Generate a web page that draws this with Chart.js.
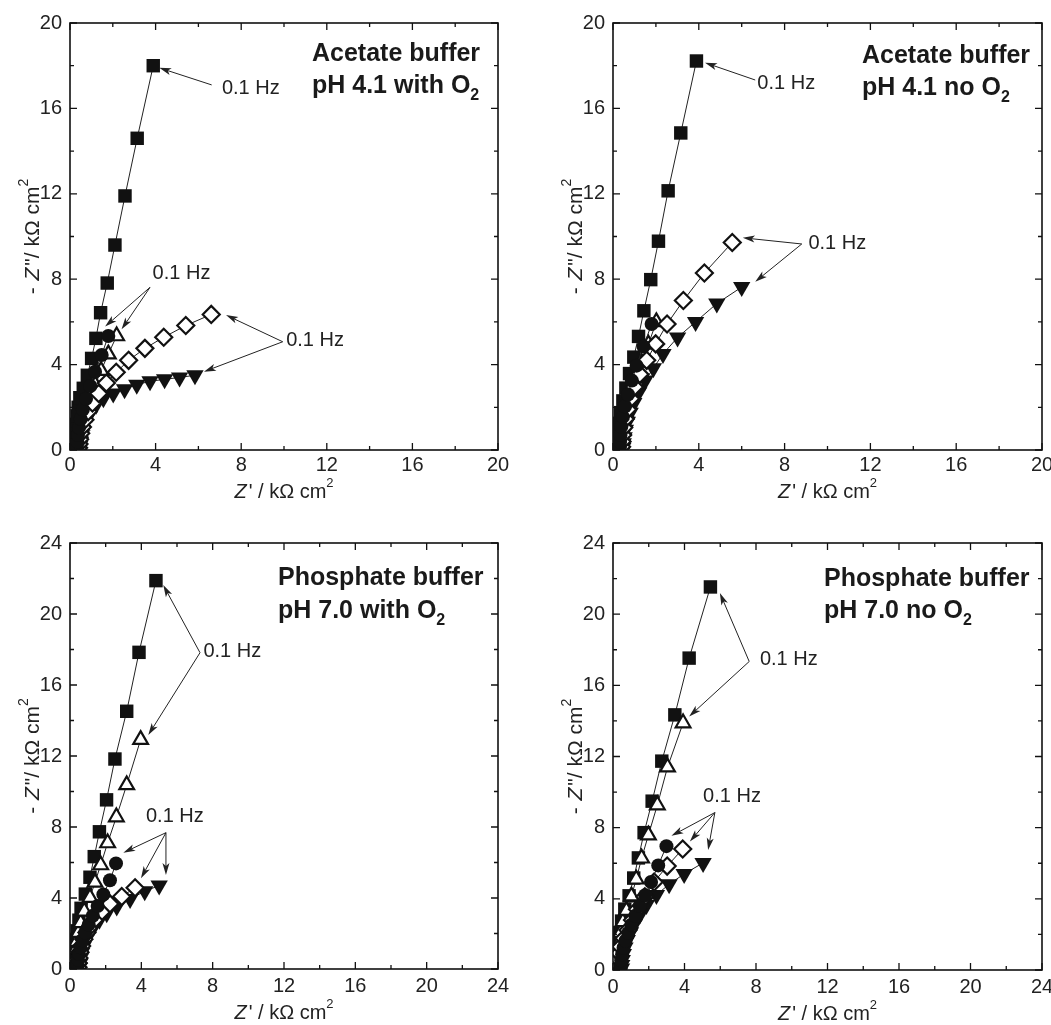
<!DOCTYPE html>
<html>
<head>
<meta charset="utf-8">
<script src="https://cdn.jsdelivr.net/npm/chart.js@4.4.0/dist/chart.umd.min.js"></script>
<style>
html, body { margin: 0; padding: 0; background: #fff; }
#wrap { position: relative; width: 1051px; height: 1025px; overflow: hidden; background: #fff; }
.panel { position: absolute; }
</style>
</head>
<body>
<div id="wrap">
  <div class="panel" style="left:0;top:0"><canvas id="c1" width="530" height="520"></canvas></div>
  <div class="panel" style="left:543px;top:0"><canvas id="c2" width="530" height="520"></canvas></div>
  <div class="panel" style="left:0;top:520px"><canvas id="c3" width="530" height="505"></canvas></div>
  <div class="panel" style="left:543px;top:520px"><canvas id="c4" width="530" height="505"></canvas></div>
</div>
<script>
// Nyquist data, [Z', -Z''] in kOhm cm2, high frequency first, 0.1 Hz last

// acetate buffer pH 4.1 with O2
const a1Sq = [[0.26,0.1],[0.26,0.3],[0.27,0.55],[0.28,0.85],[0.30,1.2],[0.33,1.6],[0.38,2.0],[0.46,2.45],[0.62,2.89],[0.81,3.5],[1.01,4.29],[1.21,5.23],[1.43,6.43],[1.74,7.82],[2.10,9.6],[2.57,11.9],[3.14,14.6],[3.89,18.0]];
const a1Ci = [[0.31,0.07],[0.32,0.2],[0.34,0.4],[0.37,0.7],[0.42,1.05],[0.5,1.45],[0.6,1.9],[0.75,2.4],[0.95,3.0],[1.17,3.67],[1.48,4.45],[1.79,5.34]];
const a1Up = [[0.37,0.08],[0.38,0.25],[0.41,0.5],[0.46,0.8],[0.53,1.15],[0.63,1.55],[0.77,2.0],[0.95,2.5],[1.18,3.05],[1.45,3.72],[1.79,4.49],[2.18,5.34]];
const a1Di = [[0.40,0.1],[0.42,0.28],[0.45,0.5],[0.5,0.78],[0.58,1.08],[0.7,1.42],[0.85,1.8],[1.05,2.2],[1.34,2.65],[1.70,3.14],[2.16,3.64],[2.74,4.2],[3.50,4.76],[4.38,5.28],[5.41,5.83],[6.6,6.35]];
const a1Dn = [[0.45,0.07],[0.46,0.2],[0.48,0.4],[0.52,0.65],[0.58,0.92],[0.67,1.2],[0.8,1.5],[0.98,1.8],[1.22,2.12],[1.56,2.42],[2.02,2.65],[2.55,2.85],[3.12,3.06],[3.74,3.22],[4.42,3.31],[5.12,3.4],[5.84,3.5]];

// acetate buffer pH 4.1 no O2
const a2Sq = [[0.25,0.08],[0.25,0.25],[0.26,0.5],[0.27,0.85],[0.30,1.25],[0.36,1.75],[0.46,2.3],[0.6,2.9],[0.77,3.58],[0.97,4.35],[1.19,5.32],[1.44,6.52],[1.76,7.98],[2.12,9.78],[2.57,12.14],[3.16,14.85],[3.89,18.22]];
const a2Ci = [[0.32,0.12],[0.33,0.38],[0.35,0.7],[0.39,1.1],[0.46,1.55],[0.56,2.05],[0.7,2.6],[0.88,3.25],[1.1,3.95],[1.42,4.85],[1.8,5.9]];
const a2Up = [[0.37,0.08],[0.38,0.28],[0.4,0.55],[0.44,0.9],[0.5,1.3],[0.6,1.75],[0.72,2.25],[0.88,2.8],[1.08,3.4],[1.33,4.1],[1.65,4.95],[2.02,6.0]];
const a2Di = [[0.4,0.15],[0.42,0.4],[0.45,0.7],[0.5,1.05],[0.57,1.45],[0.68,1.9],[0.82,2.4],[1.0,2.95],[1.25,3.55],[1.57,4.2],[1.99,4.97],[2.52,5.9],[3.28,7.0],[4.26,8.29],[5.56,9.72]];
const a2Dn = [[0.46,0.1],[0.48,0.32],[0.52,0.6],[0.58,0.95],[0.67,1.32],[0.8,1.75],[0.97,2.2],[1.2,2.7],[1.5,3.25],[1.88,3.83],[2.33,4.5],[3.01,5.27],[3.85,6.0],[4.84,6.86],[6.0,7.63]];

// phosphate buffer pH 7.0 with O2
const p1Sq = [[0.26,0.1],[0.26,0.35],[0.27,0.7],[0.29,1.1],[0.33,1.6],[0.4,2.15],[0.5,2.75],[0.62,3.42],[0.86,4.22],[1.12,5.17],[1.36,6.33],[1.65,7.73],[2.05,9.53],[2.52,11.83],[3.18,14.52],[3.87,17.84],[4.82,21.88]];
const p1Up = [[0.27,0.1],[0.28,0.35],[0.29,0.7],[0.32,1.1],[0.38,1.55],[0.47,2.05],[0.6,2.6],[0.8,3.25],[1.12,4.02],[1.40,4.88],[1.72,5.86],[2.11,7.1],[2.6,8.56],[3.18,10.37],[3.96,12.92]];
const p1Ci = [[0.41,0.08],[0.42,0.25],[0.45,0.52],[0.5,0.85],[0.58,1.22],[0.7,1.62],[0.85,2.05],[1.05,2.5],[1.28,3.0],[1.55,3.55],[1.87,4.2],[2.24,5.0],[2.58,5.95]];
const p1Di = [[0.45,0.1],[0.46,0.33],[0.5,0.62],[0.56,0.95],[0.65,1.3],[0.78,1.68],[0.95,2.05],[1.17,2.45],[1.45,2.85],[1.8,3.25],[2.24,3.67],[2.9,4.08],[3.65,4.58]];
const p1Dn = [[0.53,0.1],[0.55,0.3],[0.59,0.6],[0.66,0.92],[0.76,1.28],[0.9,1.65],[1.08,2.02],[1.33,2.4],[1.65,2.78],[2.06,3.14],[2.62,3.52],[3.37,3.95],[4.19,4.38],[5.0,4.7]];

// phosphate buffer pH 7.0 no O2
const p2Sq = [[0.26,0.08],[0.26,0.3],[0.27,0.6],[0.28,1.0],[0.32,1.5],[0.38,2.1],[0.48,2.75],[0.66,3.42],[0.9,4.17],[1.16,5.17],[1.42,6.3],[1.74,7.72],[2.19,9.49],[2.73,11.74],[3.46,14.34],[4.26,17.53],[5.45,21.53]];
const p2Up = [[0.27,0.08],[0.27,0.28],[0.28,0.6],[0.3,1.05],[0.34,1.55],[0.42,2.1],[0.55,2.7],[0.75,3.34],[1.03,4.15],[1.3,5.1],[1.6,6.28],[1.98,7.58],[2.48,9.27],[3.05,11.4],[3.92,13.88]];
const p2Ci = [[0.42,0.08],[0.43,0.28],[0.46,0.55],[0.51,0.88],[0.59,1.25],[0.7,1.65],[0.85,2.08],[1.03,2.55],[1.25,3.05],[1.5,3.6],[1.8,4.2],[2.13,4.95],[2.53,5.88],[2.99,6.96]];
const p2Di = [[0.26,0.08],[0.27,0.3],[0.3,0.6],[0.35,0.95],[0.43,1.31],[0.62,1.78],[0.84,2.25],[1.09,2.81],[1.37,3.41],[1.78,4.12],[2.3,4.95],[3.03,5.84],[3.9,6.8]];
const p2Dn = [[0.48,0.08],[0.49,0.28],[0.52,0.56],[0.58,0.9],[0.67,1.27],[0.8,1.68],[0.98,2.12],[1.2,2.6],[1.5,3.1],[1.87,3.66],[2.43,4.22],[3.14,4.82],[3.98,5.4],[5.04,6.02]];

const FONT = "'Liberation Sans', Arial, Helvetica, sans-serif";
const INK = '#1a1a1a';

const mk = {
  sq: {pointStyle: 'rect', pointRadius: 9.5, pointBackgroundColor: '#111', pointBorderColor: '#111', pointBorderWidth: 0},
  ci: {pointStyle: 'circle', pointRadius: 7, pointBackgroundColor: '#111', pointBorderColor: '#111', pointBorderWidth: 0},
  up: {pointStyle: 'triangle', pointRadius: 8.5, pointBackgroundColor: '#fff', pointBorderColor: '#111', pointBorderWidth: 2.2},
  di: {pointStyle: 'rectRot', pointRadius: 8.5, pointBackgroundColor: '#fff', pointBorderColor: '#111', pointBorderWidth: 2.2},
  dn: {pointStyle: 'triangle', pointRotation: 180, pointRadius: 10, pointBackgroundColor: '#111', pointBorderColor: '#111', pointBorderWidth: 0}
};

function series(pts, st) {
  return Object.assign({
    data: pts.map(p => ({x: p[0], y: p[1]})),
    showLine: true,
    borderColor: '#222',
    borderWidth: 1,
    clip: 0
  }, st);
}

// draw a run of text pieces with different fonts on one baseline
function drawRuns(ctx, runs, x, y, align) {
  let w = 0;
  runs.forEach(r => { ctx.font = r.f; w += ctx.measureText(r.t).width + (r.gap || 0); });
  let cx = align === 'center' ? x - w / 2 : x;
  runs.forEach(r => {
    ctx.font = r.f;
    ctx.fillText(r.t, cx, y + (r.dy || 0));
    cx += ctx.measureText(r.t).width + (r.gap || 0);
  });
}

function drawArrow(ctx, x0, y0, x1, y1) {
  const a = Math.atan2(y1 - y0, x1 - x0);
  const L = 12, W = 3.5;
  const c = Math.cos(a), s = Math.sin(a);
  ctx.beginPath();
  ctx.moveTo(x0, y0);
  ctx.lineTo(x1 - L * 0.7 * c, y1 - L * 0.7 * s);
  ctx.stroke();
  ctx.beginPath();
  ctx.moveTo(x1, y1);
  ctx.lineTo(x1 - L * c + W * s, y1 - L * s - W * c);
  ctx.lineTo(x1 - L * 0.75 * c, y1 - L * 0.75 * s);
  ctx.lineTo(x1 - L * c - W * s, y1 - L * s + W * c);
  ctx.closePath();
  ctx.fill();
}

const framePlugin = {
  id: 'frame',
  afterDatasetsDraw(chart, args, opts) {
    const {ctx, chartArea: a, scales: {x, y}} = chart;
    ctx.save();
    ctx.strokeStyle = '#111';
    ctx.lineWidth = 1.6;
    ctx.strokeRect(a.left, a.top, a.right - a.left, a.bottom - a.top);
    ctx.lineWidth = 1.3;
    ctx.beginPath();
    for (let v = 0; v <= x.max; v += 2) {
      const len = v % 4 === 0 ? 7 : 4;
      const px = x.getPixelForValue(v), py = y.getPixelForValue(v);
      ctx.moveTo(px, a.bottom); ctx.lineTo(px, a.bottom - len);
      ctx.moveTo(px, a.top); ctx.lineTo(px, a.top + len);
      ctx.moveTo(a.left, py); ctx.lineTo(a.left + len, py);
      ctx.moveTo(a.right, py); ctx.lineTo(a.right - len, py);
    }
    ctx.stroke();

    // 0.1 Hz notes and arrows
    ctx.fillStyle = '#222';
    ctx.strokeStyle = '#222';
    ctx.lineWidth = 1;
    ctx.textBaseline = 'middle';
    ctx.textAlign = 'left';
    ctx.font = '20px ' + FONT;
    opts.notes.forEach(n => ctx.fillText('0.1 Hz', x.getPixelForValue(n[0]), y.getPixelForValue(n[1])));
    opts.arrows.forEach(r => drawArrow(ctx,
      x.getPixelForValue(r[0]), y.getPixelForValue(r[1]),
      x.getPixelForValue(r[2]), y.getPixelForValue(r[3])));

    // panel label
    ctx.fillStyle = INK;
    ctx.textBaseline = 'alphabetic';
    const lb = opts.label;
    drawRuns(ctx, [{t: lb.l1, f: 'bold 25px ' + FONT}], a.left + lb.dx, a.top + lb.dy1);
    drawRuns(ctx, [{t: lb.l2, f: 'bold 25px ' + FONT}, {t: '2', f: 'bold 16px ' + FONT, dy: 7}], a.left + lb.dx, a.top + lb.dy2);

    // axis titles
    ctx.fillStyle = '#222';
    ctx.textBaseline = 'middle';
    drawRuns(ctx, [
      {t: 'Z', f: 'italic 20px ' + FONT, gap: 2},
      {t: "' / k\u03A9 cm", f: '20px ' + FONT},
      {t: '2', f: '13px ' + FONT, dy: -9}
    ], (a.left + a.right) / 2, a.bottom + opts.titleY, 'center');
    ctx.translate(a.left - 37, (a.top + a.bottom) / 2);
    ctx.rotate(-Math.PI / 2);
    drawRuns(ctx, [
      {t: '- ', f: '21px ' + FONT, gap: 1},
      {t: 'Z', f: 'italic 21px ' + FONT, gap: 2},
      {t: '"/ k\u03A9 cm', f: '21px ' + FONT},
      {t: '2', f: '14px ' + FONT, dy: -9}
    ], 0, 0, 'center');
    ctx.restore();
  }
};

function makeChart(id, sets, max, xH, padRight, tickPad, frame) {
  new Chart(document.getElementById(id), {
    type: 'scatter',
    data: {datasets: sets},
    options: {
      responsive: false,
      animation: false,
      layout: {padding: {left: 0, top: 23, right: padRight, bottom: 0}},
      plugins: {legend: {display: false}, tooltip: {enabled: false}, frame: frame},
      scales: {
        x: {
          type: 'linear', min: 0, max: max,
          grid: {display: false, drawTicks: false},
          border: {display: false},
          ticks: {stepSize: 4, padding: tickPad, color: '#222', font: {size: 20, family: FONT}},
          afterFit(s) { s.height = xH; }
        },
        y: {
          type: 'linear', min: 0, max: max,
          grid: {display: false, drawTicks: false},
          border: {display: false},
          ticks: {stepSize: 4, padding: 8, color: '#222', font: {size: 20, family: FONT}},
          afterFit(s) { s.width = 70; }
        }
      }
    },
    plugins: [framePlugin]
  });
}

// dataset 0 is drawn on top
makeChart('c1', [
  series(a1Ci, mk.ci), series(a1Di, mk.di), series(a1Up, mk.up), series(a1Sq, mk.sq), series(a1Dn, mk.dn)
], 20, 70, 32, 3, {
  titleY: 42,
  notes: [[7.1, 16.95], [3.86, 8.29], [10.1, 5.12]],
  arrows: [[6.62, 17.1, 4.17, 17.9], [3.74, 7.62, 1.64, 5.78], [3.74, 7.62, 2.41, 5.65],
           [9.94, 5.07, 7.29, 6.32], [9.94, 5.07, 6.26, 3.67]],
  label: {dx: 242, dy1: 38, dy2: 70, l1: 'Acetate buffer', l2: 'pH 4.1 with O'}
});

makeChart('c2', [
  series(a2Ci, mk.ci), series(a2Di, mk.di), series(a2Up, mk.up), series(a2Sq, mk.sq), series(a2Dn, mk.dn)
], 20, 70, 31, 3, {
  titleY: 42,
  notes: [[6.73, 17.18], [9.11, 9.68]],
  arrows: [[6.63, 17.33, 4.29, 18.14], [8.80, 9.65, 6.05, 9.94], [8.80, 9.65, 6.63, 7.88]],
  label: {dx: 249, dy1: 40, dy2: 72, l1: 'Acetate buffer', l2: 'pH 4.1 no O'}
});

makeChart('c3', [
  series(p1Ci, mk.ci), series(p1Di, mk.di), series(p1Up, mk.up), series(p1Sq, mk.sq), series(p1Dn, mk.dn)
], 24, 56, 32, 5, {
  titleY: 44,
  notes: [[7.48, 17.88], [4.26, 8.58]],
  arrows: [[7.29, 17.82, 5.23, 21.63], [7.29, 17.82, 4.39, 13.18],
           [5.38, 7.68, 2.99, 6.55], [5.38, 7.68, 3.98, 5.11], [5.38, 7.68, 5.38, 5.30]],
  label: {dx: 208, dy1: 42, dy2: 75, l1: 'Phosphate buffer', l2: 'pH 7.0 with O'}
});

makeChart('c4', [
  series(p2Ci, mk.ci), series(p2Di, mk.di), series(p2Up, mk.up), series(p2Sq, mk.sq), series(p2Dn, mk.dn)
], 24, 55, 31, 5, {
  titleY: 44,
  notes: [[8.22, 17.44], [5.04, 9.75]],
  arrows: [[7.62, 17.34, 5.98, 21.19], [7.62, 17.34, 4.26, 14.25],
           [5.70, 8.85, 3.27, 7.54], [5.70, 8.85, 4.30, 7.22], [5.70, 8.85, 5.32, 6.75]],
  label: {dx: 211, dy1: 43, dy2: 75, l1: 'Phosphate buffer', l2: 'pH 7.0 no O'}
});
</script>
</body>
</html>
